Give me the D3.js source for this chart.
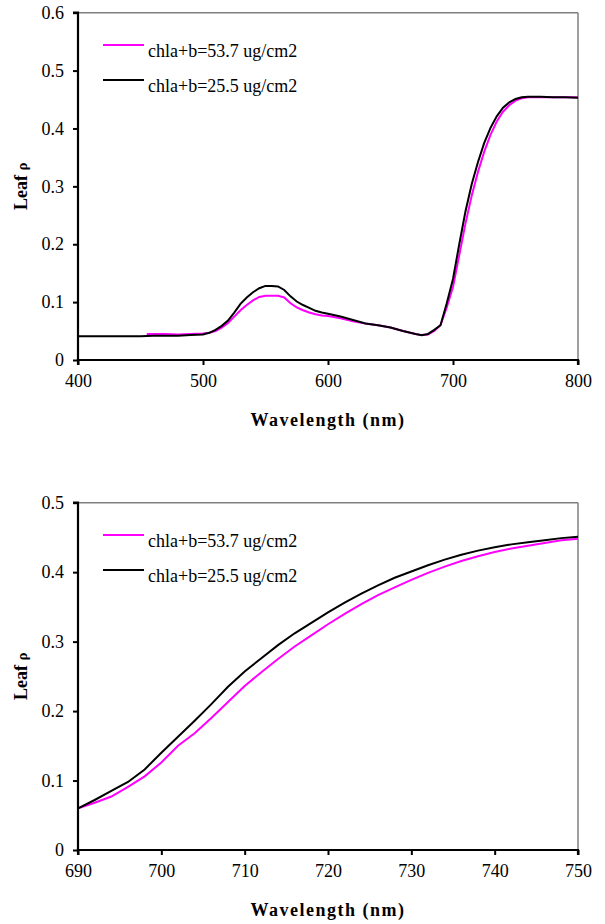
<!DOCTYPE html>
<html>
<head>
<meta charset="utf-8">
<script src="https://cdn.jsdelivr.net/npm/d3@7"></script>
</head>
<body style="margin:0;padding:0;background:#fff">
<svg id="chart" width="605" height="924" style="display:block"></svg>
<script>
// ---------- DATA ----------
const seriesNames = ["chla+b=53.7 ug/cm2", "chla+b=25.5 ug/cm2"];
const seriesColors = ["#FF00FF", "#000000"];

// Top chart: full spectrum 400-800 nm
const topWavelengthHigh = [455, 470, 480, 490, 500, 505, 510, 515, 520, 525, 530, 535, 540, 545, 550, 560, 565, 570, 575, 580, 585, 590, 595, 600, 610, 620, 630, 640, 650, 660, 670, 675, 680, 685, 690, 695, 700, 705, 710, 715, 720, 725, 730, 735, 740, 745, 750, 755, 760, 770, 780, 790, 800];
const topReflHigh = [0.045, 0.045, 0.044, 0.045, 0.046, 0.047, 0.050, 0.056, 0.064, 0.075, 0.086, 0.095, 0.103, 0.109, 0.111, 0.111, 0.108, 0.098, 0.091, 0.086, 0.082, 0.079, 0.077, 0.076, 0.072, 0.067, 0.063, 0.060, 0.056, 0.050, 0.045, 0.043, 0.044, 0.050, 0.060, 0.091, 0.126, 0.181, 0.236, 0.284, 0.325, 0.360, 0.389, 0.412, 0.429, 0.440, 0.448, 0.452, 0.454, 0.454, 0.454, 0.454, 0.454];

const topWavelengthLow = [400, 410, 420, 430, 440, 450, 460, 470, 480, 490, 500, 505, 510, 515, 520, 525, 530, 535, 540, 545, 550, 555, 560, 565, 570, 575, 580, 585, 590, 595, 600, 610, 620, 630, 640, 650, 660, 670, 675, 680, 685, 690, 695, 700, 705, 710, 715, 720, 725, 730, 735, 740, 745, 750, 755, 760, 770, 780, 790, 800];
const topReflLow = [0.041, 0.041, 0.041, 0.041, 0.041, 0.041, 0.042, 0.042, 0.042, 0.043, 0.044, 0.047, 0.052, 0.059, 0.068, 0.082, 0.097, 0.108, 0.117, 0.124, 0.128, 0.128, 0.127, 0.121, 0.110, 0.101, 0.095, 0.090, 0.085, 0.082, 0.080, 0.075, 0.069, 0.063, 0.060, 0.056, 0.050, 0.045, 0.043, 0.045, 0.052, 0.060, 0.098, 0.140, 0.200, 0.257, 0.304, 0.342, 0.375, 0.401, 0.421, 0.436, 0.445, 0.451, 0.454, 0.455, 0.455, 0.454, 0.454, 0.453];

// Bottom chart: red edge 690-750 nm
const edgeWavelength = [690, 692, 694, 696, 698, 700, 702, 704, 706, 708, 710, 712, 714, 716, 718, 720, 722, 724, 726, 728, 730, 732, 734, 736, 738, 740, 742, 744, 746, 748, 750];
const edgeReflHigh = [0.060, 0.068, 0.077, 0.091, 0.106, 0.126, 0.150, 0.168, 0.190, 0.213, 0.236, 0.256, 0.275, 0.293, 0.309, 0.325, 0.340, 0.354, 0.367, 0.378, 0.389, 0.399, 0.408, 0.416, 0.423, 0.429, 0.434, 0.438, 0.442, 0.446, 0.448];
const edgeReflLow = [0.060, 0.072, 0.085, 0.098, 0.116, 0.140, 0.163, 0.186, 0.210, 0.235, 0.257, 0.276, 0.295, 0.312, 0.327, 0.342, 0.356, 0.369, 0.381, 0.392, 0.401, 0.410, 0.418, 0.425, 0.431, 0.436, 0.440, 0.443, 0.446, 0.449, 0.451];

const topXTicks = [400, 500, 600, 700, 800];
const topYTicks = [0, 0.1, 0.2, 0.3, 0.4, 0.5, 0.6];
const bottomXTicks = [690, 700, 710, 720, 730, 740, 750];
const bottomYTicks = [0, 0.1, 0.2, 0.3, 0.4, 0.5];

const xTitle = "Wavelength (nm)";
const yTitleWord = "Leaf ";
const yTitleSymbol = "ρ";

// ---------- DRAW ----------
const FONT = "'Liberation Serif', 'Times New Roman', Times, serif";
const svg = d3.select("#chart").style("font-family", FONT);

function drawPanel(cfg) {
  const g = svg.append("g");
  const x = d3.scaleLinear().domain(cfg.xDomain).range([78, 578]);
  const y = d3.scaleLinear().domain(cfg.yDomain).range([cfg.bottom, cfg.top]);

  g.append("line").attr("x1", x.range()[0]).attr("x2", x.range()[1])
    .attr("y1", cfg.top).attr("y2", cfg.top)
    .attr("stroke", "#808080").attr("stroke-width", 1.5);
  g.append("line").attr("x1", x.range()[1]).attr("x2", x.range()[1])
    .attr("y1", cfg.top).attr("y2", cfg.bottom)
    .attr("stroke", "#808080").attr("stroke-width", 1.5);

  const line = d3.line().x(d => x(d[0])).y(d => y(d[1]));
  cfg.series.forEach((s, i) => {
    const pts = s.xs.map((v, j) => [v, s.ys[j]]);
    g.append("path").datum(pts)
      .attr("d", line)
      .attr("fill", "none")
      .attr("stroke", seriesColors[i])
      .attr("stroke-width", 2);
  });

  const yAxis = d3.axisLeft(y).tickValues(cfg.yTicks).tickSize(5).tickPadding(9)
    .tickFormat(d => d === 0 ? "0" : d3.format(".1f")(d));
  const yg = g.append("g").attr("transform", `translate(${x.range()[0]},0)`).call(yAxis);
  const xAxis = d3.axisBottom(x).tickValues(cfg.xTicks).tickSize(5).tickPadding(9)
    .tickFormat(d3.format("d"));
  const xg = g.append("g").attr("transform", `translate(0,${cfg.bottom})`).call(xAxis);
  [yg, xg].forEach(ax => {
    ax.attr("font-family", null).attr("font-size", null);
    ax.select(".domain").attr("stroke", "#000").attr("stroke-width", 2.2);
    ax.selectAll(".tick line").attr("stroke", "#000").attr("stroke-width", 2);
    ax.selectAll(".tick text")
      .style("font-family", FONT).style("font-size", "18px").attr("fill", "#000");
  });
  yg.select(".domain").attr("d", `M-5,${cfg.top}H0V${cfg.bottom}`);
  xg.select(".domain").attr("d", `M${x.range()[0]},5V0H${x.range()[1]}V5`);

  g.append("text")
    .attr("x", (x.range()[0] + x.range()[1]) / 2)
    .attr("y", cfg.bottom + 66)
    .attr("text-anchor", "middle")
    .style("font-family", FONT).style("font-size", "18px").style("font-weight", "bold")
    .style("letter-spacing", "1.5px")
    .attr("fill", "#000")
    .text(xTitle);

  const yt = g.append("text")
    .attr("transform", `translate(27,${(cfg.top + cfg.bottom) / 2}) rotate(-90)`)
    .attr("text-anchor", "middle")
    .style("font-family", FONT).style("font-size", "18px").style("font-weight", "bold")
    .attr("fill", "#000");
  yt.append("tspan").text(yTitleWord);
  yt.append("tspan").style("font-size", "15px").text(yTitleSymbol);

  seriesNames.forEach((name, i) => {
    const ly = cfg.legendY + i * 35;
    g.append("line").attr("x1", 103).attr("x2", 144).attr("y1", ly).attr("y2", ly)
      .attr("stroke", seriesColors[i]).attr("stroke-width", 2);
    g.append("text").attr("x", 148).attr("y", ly + 12)
      .style("font-family", FONT).style("font-size", "18px")
      .attr("fill", "#000")
      .text(name);
  });
}

drawPanel({
  xDomain: [400, 800], yDomain: [0, 0.6], top: 12.7, bottom: 360,
  xTicks: topXTicks, yTicks: topYTicks, legendY: 45,
  series: [
    { xs: topWavelengthHigh, ys: topReflHigh },
    { xs: topWavelengthLow, ys: topReflLow }
  ]
});

drawPanel({
  xDomain: [690, 750], yDomain: [0, 0.5], top: 502.7, bottom: 850,
  xTicks: bottomXTicks, yTicks: bottomYTicks, legendY: 535,
  series: [
    { xs: edgeWavelength, ys: edgeReflHigh },
    { xs: edgeWavelength, ys: edgeReflLow }
  ]
});
</script>
</body>
</html>
